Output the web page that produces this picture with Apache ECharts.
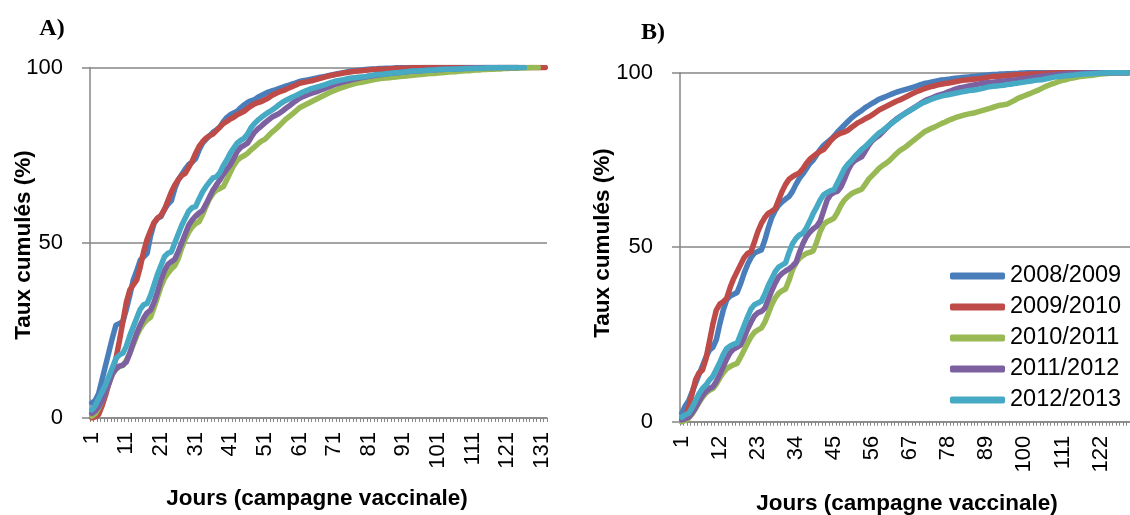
<!DOCTYPE html>
<html>
<head>
<meta charset="utf-8">
<title>Taux cumulés de vaccination par campagne</title>
<script src="https://cdn.jsdelivr.net/npm/echarts@6/dist/echarts.min.js"></script>
<style>
  html, body { margin: 0; padding: 0; background: #fff; }
  #chart { width: 1130px; height: 515px; }
</style>
</head>
<body>
<div id="chart"></div>
<script>
// Seasons shown in both panels
const seasons = ['2008/2009', '2009/2010', '2010/2011', '2011/2012', '2012/2013'];
const seasonColors = ['#4A7EBB', '#BE4B48', '#98B954', '#7D60A0', '#46AAC5'];

// Day categories of each panel's campaign axis
const daysA = Array.from({ length: 132 }, (_, i) => String(i + 1));
const daysB = Array.from({ length: 130 }, (_, i) => String(i + 1));

// Y-axis tick values
const yTicks = [0, 50, 100];

// Panel A — cumulative rate (%) per campaign day
const a2008 = [
  4.3, 5.0, 7.0, 11.0, 15.0, 19.0, 23.0, 26.5, 27.0, 27.5,
  31.0, 35.0, 39.4, 42.0, 45.0, 46.0, 47.0, 52.0, 55.5, 57.0,
  57.5, 59.5, 61.0, 62.0, 65.5, 68.0, 69.5, 71.0, 72.3, 73.0,
  74.0, 76.5, 78.4, 79.5, 80.5, 81.5, 82.2, 83.0, 84.5, 85.7,
  86.5, 87.0, 87.5, 88.5, 89.3, 90.0, 90.5, 90.8, 91.5, 92.0,
  92.5, 93.0, 93.3, 93.6, 94.0, 94.3, 94.7, 95.0, 95.3, 95.6,
  96.0, 96.2, 96.4, 96.6, 96.8, 97.0, 97.2, 97.4, 97.6, 97.8,
  98.0, 98.2, 98.4, 98.6, 98.8, 99.0, 99.1, 99.2, 99.3, 99.4,
  99.5, 99.6, 99.6, 99.7, 99.7, 99.8, 99.8, 99.8, 99.9, 99.9,
  99.9, 99.9, 100, 100, 100, 100, 100, 100, 100, 100,
  100, 100, 100, 100, 100, 100, 100, 100, 100, 100,
  100, 100, 100, 100, 100, 100, 100, 100, 100, 100,
  100, 100, 100, 100
];
const a2009 = [
  0, 0.3, 1.0, 3.5, 6.5, 10.0, 13.5, 17.0, 22.0, 27.5,
  33.0, 36.5, 38.0, 39.4, 43.0, 47.5, 51.0, 53.5, 55.8, 57.0,
  57.8, 59.5, 62.0, 64.5, 66.5, 68.0, 69.2, 69.8, 71.5, 73.2,
  75.5, 77.5, 78.8, 79.8, 80.5, 81.0, 82.0, 83.0, 84.0, 84.6,
  85.3, 85.8, 86.5, 87.0, 87.5, 88.3, 89.0, 89.6, 90.0, 90.3,
  90.8, 91.3, 92.0, 92.5, 93.0, 93.3, 93.7, 94.2, 94.6, 95.0,
  95.5, 95.7, 95.9, 96.1, 96.3, 96.6, 96.9, 97.2, 97.5, 97.7,
  97.9, 98.1, 98.3, 98.5, 98.6, 98.8, 98.9, 99.0, 99.1, 99.2,
  99.3, 99.4, 99.4, 99.5, 99.5, 99.6, 99.6, 99.7, 99.7, 99.8,
  99.8, 99.8, 99.9, 99.9, 99.9, 99.9, 100, 100, 100, 100,
  100, 100, 100, 100, 100, 100, 100, 100, 100, 100,
  100, 100, 100, 100, 100, 100, 100, 100, 100, 100,
  100, 100, 100, 100, 100, 100, 100, 100, 100, 100,
  100, 100
];
const a2010 = [
  0.5, 1.2, 2.8, 5.0, 7.5, 10.0, 12.5, 14.0, 14.7, 15.0,
  16.5, 18.5, 21.0, 23.5, 25.5, 27.0, 28.0, 28.8, 31.5, 34.5,
  37.5, 39.8, 41.3, 42.5, 43.5, 45.5, 48.5, 51.0, 53.0, 54.5,
  55.5, 56.0, 58.0, 60.3, 62.5, 64.0, 65.0, 65.5, 66.0, 68.0,
  70.0, 72.0, 73.5, 74.3, 74.8, 75.5, 76.5, 77.3, 78.2, 79.0,
  79.5, 80.5, 81.5, 82.3, 83.2, 84.2, 85.2, 86.0, 86.8, 87.6,
  88.5, 89.0, 89.5, 90.0, 90.5, 91.0, 91.5, 92.0, 92.5, 93.0,
  93.4, 93.8, 94.2, 94.5, 94.8, 95.1, 95.4, 95.6, 95.8, 96.0,
  96.2, 96.4, 96.6, 96.8, 96.9, 97.0, 97.1, 97.2, 97.3, 97.4,
  97.5, 97.6, 97.7, 97.8, 97.9, 98.0, 98.1, 98.2, 98.3, 98.3,
  98.4, 98.5, 98.6, 98.7, 98.8, 98.8, 98.9, 99.0, 99.1, 99.1,
  99.2, 99.3, 99.3, 99.4, 99.4, 99.5, 99.5, 99.6, 99.6, 99.7,
  99.7, 99.8, 99.8, 99.8, 99.9, 99.9, 99.9, 100, 100, 100
];
const a2011 = [
  1.3, 2.0, 3.2, 5.0, 7.5, 10.0, 12.7, 14.0, 14.8, 15.1,
  16.0, 18.5, 21.5, 24.2, 26.5, 28.5, 30.0, 30.8, 33.0, 36.0,
  39.4, 42.0, 43.8, 44.6, 45.3, 47.5, 50.0, 52.5, 55.0, 56.5,
  57.6, 58.5, 59.2, 61.0, 63.0, 65.0, 66.5, 67.9, 69.5, 71.0,
  72.2, 74.0, 76.0, 77.2, 77.8, 78.4, 80.0, 81.5, 82.5, 83.3,
  84.2, 85.0, 85.8, 86.3, 86.8, 87.5, 88.3, 89.0, 89.8, 90.5,
  91.2, 91.7, 92.1, 92.5, 92.8, 93.1, 93.5, 93.9, 94.3, 94.7,
  95.1, 95.4, 95.7, 96.0, 96.2, 96.5, 96.7, 96.9, 97.1, 97.3,
  97.5, 97.6, 97.8, 97.9, 98.0, 98.2, 98.3, 98.4, 98.5, 98.6,
  98.7, 98.8, 98.9, 99.0, 99.0, 99.1, 99.2, 99.2, 99.3, 99.3,
  99.4, 99.4, 99.5, 99.5, 99.6, 99.6, 99.7, 99.7, 99.8, 99.8,
  99.8, 99.9, 99.9, 99.9, 100, 100, 100, 100, 100, 100,
  100, 100, 100, 100
];
const a2012 = [
  2.3, 3.5, 5.5, 7.5, 9.5, 12.0, 14.5, 17.0, 18.0, 18.5,
  20.5, 23.5, 26.0, 28.5, 31.0, 32.3, 32.7, 35.0, 38.0, 41.0,
  43.5, 46.0, 47.0, 47.4, 50.0, 52.5, 55.0, 57.0, 59.0, 60.0,
  60.3, 62.5, 64.5, 66.0, 67.3, 68.5, 68.8, 70.0, 72.0, 73.6,
  75.5, 77.0, 78.4, 79.2, 79.8, 81.0, 82.8, 84.0, 85.0, 85.8,
  86.5, 87.2, 87.8, 88.5, 89.3, 90.0, 90.6, 91.1, 91.6, 92.0,
  92.5, 93.0, 93.4, 93.8, 94.1, 94.4, 94.7, 95.0, 95.3, 95.7,
  96.0, 96.2, 96.4, 96.6, 96.8, 97.0, 97.1, 97.2, 97.3, 97.4,
  97.6, 97.8, 97.9, 98.0, 98.1, 98.2, 98.3, 98.4, 98.5, 98.6,
  98.7, 98.8, 98.9, 99.0, 99.0, 99.1, 99.1, 99.2, 99.2, 99.3,
  99.4, 99.4, 99.5, 99.5, 99.5, 99.6, 99.6, 99.6, 99.7, 99.7,
  99.7, 99.8, 99.8, 99.8, 99.9, 99.9, 99.9, 99.9, 100, 100,
  100, 100, 100, 100, 100, 100
];

// Panel B — cumulative rate (%) per campaign day
const b2008 = [
  2.4, 4.5, 6.0, 8.5, 11.0, 13.5, 16.0, 18.5, 20.5, 21.3,
  23.5, 28.0, 32.0, 35.0, 36.0, 36.5, 37.0, 39.5, 42.5, 45.0,
  47.0, 48.3, 48.8, 49.2, 52.0, 55.5, 58.5, 60.5, 62.0, 63.0,
  63.8, 64.5, 66.0, 68.0, 69.7, 71.0, 72.5, 74.0, 75.0, 76.5,
  78.0, 79.2, 80.0, 80.8, 81.8, 83.0, 84.0, 85.0, 86.0, 87.0,
  87.8, 88.5, 89.2, 90.0, 90.6, 91.2, 91.8, 92.4, 92.8, 93.2,
  93.6, 94.0, 94.4, 94.7, 95.0, 95.3, 95.6, 95.9, 96.2, 96.6,
  96.9, 97.1, 97.3, 97.5, 97.7, 97.9, 98.0, 98.1, 98.3, 98.4,
  98.5, 98.6, 98.7, 98.8, 98.9, 99.0, 99.1, 99.2, 99.3, 99.4,
  99.5, 99.5, 99.6, 99.6, 99.7, 99.7, 99.8, 99.8, 99.9, 99.9,
  100, 100, 100, 100, 100, 100, 100, 100, 100, 100,
  100, 100, 100, 100, 100, 100, 100, 100, 100, 100,
  100, 100, 100, 100, 100, 100, 100, 100, 100, 100
];
const b2009 = [
  0, 1.5, 4.0, 8.0, 12.0, 14.0, 14.8, 18.0, 23.0, 28.0,
  32.0, 33.7, 34.4, 35.4, 38.5, 41.0, 43.0, 45.0, 47.0, 48.2,
  48.7, 51.5, 54.5, 56.8, 58.5, 59.7, 60.3, 61.0, 63.5, 66.0,
  68.0, 69.5, 70.2, 70.8, 71.3, 72.5, 74.0, 75.2, 76.0, 76.8,
  77.5, 78.0, 79.2, 80.5, 81.5, 82.2, 82.7, 83.0, 83.5, 84.3,
  85.0, 85.7, 86.2, 86.8, 87.3, 87.9, 88.6, 89.3, 89.8, 90.3,
  90.8, 91.3, 91.8, 92.2, 92.7, 93.2, 93.7, 94.2, 94.6, 95.0,
  95.4, 95.7, 96.0, 96.2, 96.5, 96.7, 96.9, 97.0, 97.2, 97.4,
  97.6, 97.8, 97.9, 98.0, 98.1, 98.2, 98.3, 98.4, 98.6, 98.8,
  98.9, 99.0, 99.0, 99.1, 99.2, 99.3, 99.4, 99.4, 99.5, 99.5,
  99.6, 99.6, 99.7, 99.7, 99.8, 99.8, 99.9, 99.9, 99.9, 100,
  100, 100, 100, 100, 100, 100, 100, 100, 100, 100,
  100, 100, 100, 100, 100, 100, 100, 100, 100, 100
];
const b2010 = [
  0, 0.3, 1.0, 2.2, 3.8, 5.5, 7.0, 8.2, 9.0, 9.5,
  10.8, 12.5, 14.0, 15.2, 15.8, 16.3, 16.7, 18.5, 20.5, 22.5,
  24.3, 25.6, 26.3, 26.8, 28.5, 31.0, 33.5, 35.5, 36.8, 37.5,
  38.0, 40.5, 43.5, 45.5, 46.8, 47.6, 48.2, 48.5, 49.0, 51.5,
  54.5, 56.5, 57.3, 57.8, 58.3, 60.0, 62.0, 63.5, 64.5, 65.3,
  65.8, 66.2, 66.6, 68.0, 69.5, 70.5, 71.5, 72.6, 73.4, 74.0,
  74.8, 75.8, 76.8, 77.7, 78.3, 79.0, 79.8, 80.6, 81.4, 82.2,
  83.0, 83.5, 84.0, 84.4, 84.9, 85.4, 85.8, 86.3, 86.7, 87.1,
  87.4, 87.7, 88.0, 88.2, 88.4, 88.6, 88.9, 89.2, 89.5, 89.8,
  90.1, 90.4, 90.7, 90.8, 91.0, 91.5, 92.0, 92.6, 93.0, 93.4,
  93.8, 94.2, 94.6, 95.0, 95.5, 96.0, 96.4, 96.8, 97.1, 97.5,
  97.8, 98.0, 98.3, 98.5, 98.7, 98.9, 99.0, 99.1, 99.2, 99.3,
  99.5, 99.6, 99.7, 99.8, 99.9, 99.9, 100, 100, 100, 100
];
const b2011 = [
  0.5, 0.8, 1.3, 2.5, 4.0, 5.8, 7.5, 8.7, 9.5, 10.0,
  11.5, 13.5, 15.8, 18.0, 19.8, 20.8, 21.3, 22.0, 24.0, 26.5,
  28.5, 30.3, 31.2, 31.6, 32.5, 35.0, 37.5, 39.7, 41.5, 42.5,
  43.2, 43.8, 44.6, 45.6, 48.5, 51.0, 53.0, 54.3, 55.3, 56.0,
  57.5, 60.5, 63.5, 65.0, 65.7, 66.0, 67.3, 69.5, 72.0, 73.8,
  74.8, 75.4, 75.9, 77.5, 79.2, 80.5, 81.3, 82.0, 83.0, 84.0,
  85.0, 85.9, 86.7, 87.4, 88.0, 88.7, 89.3, 89.9, 90.5, 91.2,
  91.8, 92.3, 92.7, 93.1, 93.5, 93.8, 94.1, 94.5, 94.9, 95.3,
  95.6, 95.8, 96.0, 96.2, 96.4, 96.6, 96.8, 97.0, 97.1, 97.2,
  97.3, 97.4, 97.5, 97.6, 97.7, 97.8, 97.9, 98.0, 98.1, 98.3,
  98.4, 98.6, 98.7, 98.9, 99.0, 99.1, 99.2, 99.3, 99.4, 99.5,
  99.6, 99.7, 99.7, 99.8, 99.8, 99.9, 99.9, 100, 100, 100,
  100, 100, 100, 100, 100, 100, 100, 100, 100, 100
];
const b2012 = [
  1.3, 2.0, 2.4, 4.0, 6.0, 8.0, 9.5, 10.5, 11.9, 13.0,
  15.0, 17.0, 19.3, 21.0, 21.7, 22.2, 22.5, 25.0, 27.5, 30.0,
  32.3, 33.5, 34.0, 34.5, 36.5, 39.0, 41.0, 43.0, 44.3, 44.9,
  45.5, 48.5, 51.0, 52.5, 53.5, 54.0, 55.5, 57.5, 59.7, 61.5,
  63.5, 65.0, 65.7, 66.2, 66.5, 68.5, 70.5, 72.5, 73.8, 74.8,
  76.0, 77.0, 78.0, 78.8, 79.8, 80.8, 81.8, 82.7, 83.4, 84.2,
  85.0, 85.8, 86.5, 87.3, 88.0, 88.6, 89.2, 89.8, 90.4, 91.0,
  91.5, 91.9, 92.3, 92.7, 93.0, 93.3, 93.5, 93.7, 93.9, 94.1,
  94.3, 94.5, 94.7, 94.9, 95.0, 95.1, 95.3, 95.5, 95.8, 96.0,
  96.1, 96.2, 96.3, 96.4, 96.6, 96.7, 96.9, 97.0, 97.2, 97.3,
  97.5, 97.6, 97.8, 97.9, 98.0, 98.2, 98.4, 98.6, 98.8, 98.9,
  99.0, 99.1, 99.2, 99.3, 99.4, 99.5, 99.6, 99.6, 99.7, 99.8,
  99.8, 99.9, 99.9, 100, 100, 100, 100, 100, 100, 100
];

const panelA = [a2008, a2009, a2010, a2011, a2012];
const panelB = [b2008, b2009, b2010, b2011, b2012];

const FONT = '"Liberation Sans", Arial, sans-serif';
const AXIS_GREY = '#868686';

function xAxisFor(gridIndex, days, labelEvery) {
  return {
    type: 'category',
    gridIndex: gridIndex,
    data: days,
    boundaryGap: true,
    axisLine: { show: true, lineStyle: { color: AXIS_GREY, width: 1.5 } },
    axisTick: { show: true, interval: 0, length: 4, lineStyle: { color: AXIS_GREY, width: 1 } },
    axisLabel: {
      interval: labelEvery - 1,
      rotate: 90,
      margin: 14,
      fontSize: 22,
      fontFamily: FONT,
      color: '#000'
    },
    splitLine: { show: false }
  };
}

function yAxisFor(gridIndex) {
  return {
    type: 'value',
    gridIndex: gridIndex,
    min: yTicks[0],
    max: yTicks[yTicks.length - 1],
    interval: yTicks[1] - yTicks[0],
    axisLine: { show: true, lineStyle: { color: AXIS_GREY, width: 1.5 } },
    axisTick: { show: true, length: 8, lineStyle: { color: AXIS_GREY, width: 1.5 } },
    axisLabel: { margin: 27, fontSize: 22, fontFamily: FONT, color: '#000' },
    splitLine: { show: true, lineStyle: { color: AXIS_GREY, width: 1.5 } }
  };
}

function seriesFor(panelData, axisIndex) {
  return panelData.map((values, i) => ({
    name: seasons[i],
    type: 'line',
    xAxisIndex: axisIndex,
    yAxisIndex: axisIndex,
    data: values,
    showSymbol: false,
    symbol: 'none',
    smooth: false,
    color: seasonColors[i],
    lineStyle: { width: 5.5, color: seasonColors[i], cap: 'round', join: 'round' },
    z: 2 + i
  }));
}

function label(text, x, y, size, bold, family, rotation) {
  return {
    type: 'text',
    x: x,
    y: y,
    rotation: rotation || 0,
    style: {
      text: text,
      fill: '#000',
      font: (bold ? 'bold ' : '') + size + 'px ' + family,
      align: 'center',
      verticalAlign: 'middle'
    }
  };
}

const chart = echarts.init(document.getElementById('chart'), null, { renderer: 'canvas' });

chart.setOption({
  animation: false,
  backgroundColor: '#fff',
  grid: [
    { left: 90, top: 67.5, width: 457, height: 350.5, containLabel: false },
    { left: 680, top: 72.7, width: 450, height: 349, containLabel: false }
  ],
  xAxis: [xAxisFor(0, daysA, 10), xAxisFor(1, daysB, 11)],
  yAxis: [yAxisFor(0), yAxisFor(1)],
  legend: {
    data: seasons,
    orient: 'vertical',
    left: 945,
    top: 259,
    itemWidth: 55,
    itemHeight: 7,
    itemGap: 7,
    icon: 'roundRect',
    selectedMode: false,
    textStyle: { fontSize: 23.5, fontFamily: FONT, color: '#000', lineHeight: 24 }
  },
  graphic: [
    label('A)', 52, 29, 24, true, '"Liberation Serif", "Times New Roman", serif'),
    label('B)', 653, 33, 24, true, '"Liberation Serif", "Times New Roman", serif'),
    label('Taux cumulés (%)', 24, 245, 22.5, true, FONT, Math.PI / 2),
    label('Taux cumulés (%)', 603, 243, 22.5, true, FONT, Math.PI / 2),
    label('Jours (campagne vaccinale)', 317, 499, 22.5, true, FONT),
    label('Jours (campagne vaccinale)', 907, 504, 22.5, true, FONT)
  ],
  series: seriesFor(panelA, 0).concat(seriesFor(panelB, 1))
});
</script>
</body>
</html>
